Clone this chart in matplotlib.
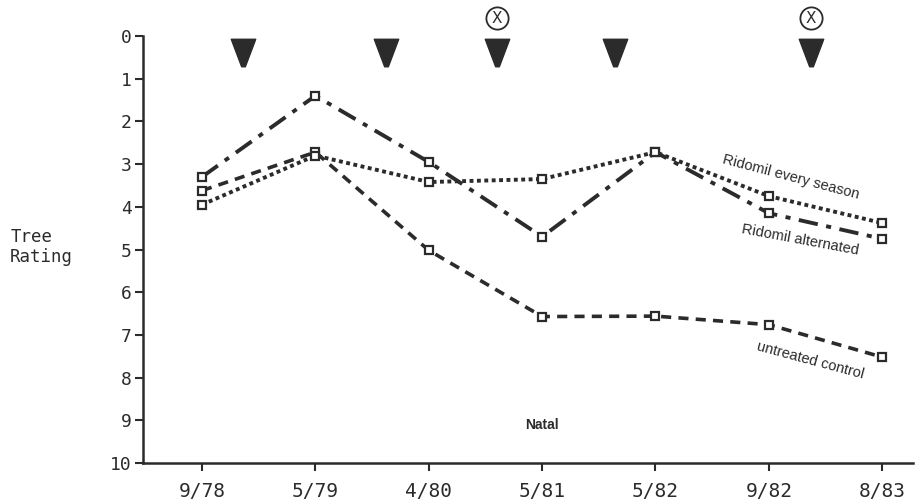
import numpy as np
import matplotlib.pyplot as plt
from matplotlib.path import Path

dates = ["9/78", "5/79", "4/80", "5/81", "5/82", "9/82", "8/83"]
alternated = [3.3, 1.4, 2.95, 4.7, 2.72, 4.15, 4.75]
every_season = [3.95, 2.8, 3.42, 3.35, 2.72, 3.75, 4.38]
untreated = [3.62, 2.72, 5.02, 6.57, 6.56, 6.76, 7.52]

# spray applications (position between sampling dates), and which ones were circled-X
spray_x = [0.36, 1.62, 2.60, 3.64, 5.37]
circled_x = [2.60, 5.37]

ink = "#2b2b2b"
mono = "DejaVu Sans Mono"

fig = plt.figure(figsize=(9.23, 5.04), dpi=100)
ax = fig.add_axes([0.155, 0.0813, 0.834, 0.8473])

x = np.arange(len(dates))

ax.plot(x, untreated, color=ink, lw=2.6, dashes=(2.8, 2.0), marker="s", ms=6.2,
        mfc="white", mec=ink, mew=1.6)
ax.plot(x, every_season, color=ink, lw=2.8, dashes=(1.0, 0.9), marker="s", ms=6.2,
        mfc="white", mec=ink, mew=1.6)
ax.plot(x, alternated, color=ink, lw=2.8, dashes=(5, 2.2, 1.3, 2.2), marker="s",
        ms=6.2, mfc="white", mec=ink, mew=1.6)

# downward triangles for spray dates
tri = Path([(-1, 1), (1, 1), (0.15, -1.25), (-0.15, -1.25), (-1, 1)],
           [Path.MOVETO, Path.LINETO, Path.LINETO, Path.LINETO, Path.CLOSEPOLY])
ax.plot(spray_x, [0.35] * len(spray_x), ls="none", marker=tri, ms=22,
        color=ink, clip_on=False)
ax.plot(circled_x, [-0.42] * len(circled_x), ls="none", marker="o", ms=16,
        mfc="white", mec=ink, mew=1.3, clip_on=False)
for cx in circled_x:
    ax.text(cx, -0.42, "X", ha="center", va="center", fontsize=11,
            family="DejaVu Sans", color=ink, clip_on=False)

ax.text(5.19, 3.30, "Ridomil every season", rotation=-14.7, ha="center",
        va="center", fontsize=10.5, family="Liberation Sans", color=ink)
ax.text(5.28, 4.78, "Ridomil alternated", rotation=-10.5, ha="center",
        va="center", fontsize=10.5, family="Liberation Sans", color=ink)
ax.text(5.37, 7.59, "untreated control", rotation=-15, ha="center",
        va="center", fontsize=10.5, family="Liberation Sans", color=ink)
ax.text(3.0, 9.11, "Natal", ha="center", va="center", fontsize=10,
        fontweight="bold", family="Liberation Sans", color=ink)

ax.set_xlim(-0.52, 6.27)
ax.set_ylim(10, 0)
ax.set_xticks(x)
ax.set_xticklabels(dates, family=mono, fontsize=14, color=ink)
ax.set_yticks(range(11))
ax.set_yticklabels([str(i) for i in range(11)], family=mono, fontsize=13, color=ink)
ax.tick_params(axis="both", direction="out", length=6, width=1.5, color=ink)
ax.tick_params(axis="x", pad=8)
ax.tick_params(axis="y", pad=2)

for side in ["top", "right"]:
    ax.spines[side].set_visible(False)
for side in ["left", "bottom"]:
    ax.spines[side].set_linewidth(1.8)
    ax.spines[side].set_color(ink)

fig.text(0.011, 0.51, "Tree\nRating", family=mono, fontsize=12.5, color=ink,
         ha="left", va="center", linespacing=1.2)

fig.savefig("out.png", dpi=100)
